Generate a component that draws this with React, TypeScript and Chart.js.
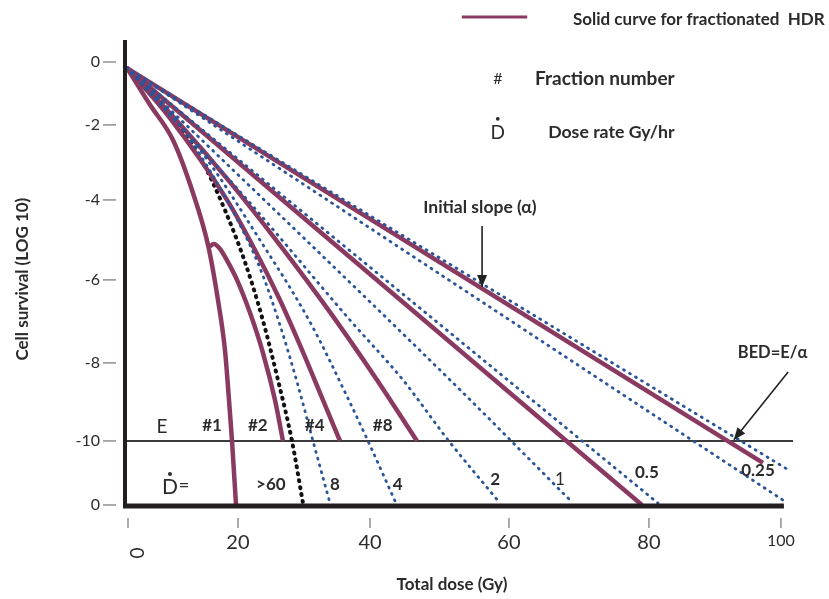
import React, { useEffect, useRef } from 'react';
import { Chart, registerables } from 'chart.js';

Chart.register(...registerables);

// ---- axis ticks (hand-spaced axis of the original diagram) ----
const xTickValues = [0, 16.97, 37.16, 58.41, 79.82, 100];
const xTickLabels = ['0', '20', '40', '60', '80', '100'];
const yTickValues = [0, -1.66, -3.64, -5.75, -7.94, -10, -11.69];
const yTickLabels = ['0', '-2', '-4', '-6', '-8', '-10', '0'];
const xTitle = 'Total dose (Gy)';
const yTitle = 'Cell survival (LOG 10)';

// ---- solid curves: fractionated HDR ----
const fracTopX = [0, 97.25];
const fracTopY = [-0.16, -10.58];
const fracMidX = [0, 78.75];
const fracMidY = [-0.16, -11.69];
const frac8X = [0, 8.1, 15.75, 23.39, 31.04, 38.23, 44.34];
const frac8Y = [-0.16, -1.64, -3.17, -4.83, -6.6, -8.39, -10.0];
const frac4X = [0, 6.57, 15.29, 19.57, 23.39, 26.45, 29.97, 32.57];
const frac4Y = [-0.16, -1.48, -3.64, -4.96, -6.28, -7.47, -8.92, -10.0];
const frac2X = [12.54, 13.3, 14.22, 15.44, 16.82, 18.81, 20.8, 22.63, 23.85];
const frac2Y = [-4.88, -4.8, -4.93, -5.28, -5.75, -6.62, -7.68, -8.92, -10.0];
const frac1X = [0, 3.52, 7.03, 9.94, 12.39, 13.91, 14.98, 15.6, 16.06, 16.67];
const frac1Y = [-0.16, -1.13, -2.06, -3.38, -4.83, -6.28, -7.6, -8.92, -10.0, -11.69];

// ---- dotted curves: dose rate (Gy/hr) ----
const rateAlphaX = [0, 100.92];
const rateAlphaY = [-0.16, -10.74];
const rate025X = [0, 100.31];
const rate025Y = [-0.16, -11.56];
const rate05X = [0, 81.19];
const rate05Y = [-0.16, -11.64];
const rate1X = [0, 49.4, 67.74];
const rate1Y = [-0.16, -8.39, -11.56];
const rate2X = [0, 18.81, 34.1, 42.2, 49.08, 57.03];
const rate2Y = [-0.16, -3.72, -6.81, -8.39, -9.97, -11.64];
const rate4X = [0, 11.16, 20.34, 27.98, 33.33, 36.85, 41.13];
const rate4Y = [-0.16, -2.32, -4.7, -6.86, -8.71, -10.0, -11.64];
const rate8X = [0, 5.81, 11.93, 16.51, 20.34, 23.39, 25.99, 28.44, 31.04];
const rate8Y = [-0.16, -1.13, -2.66, -4.04, -5.44, -6.94, -8.44, -10.0, -11.64];
const rateAcuteX = [0, 5.05, 11.16, 14.98, 18.04, 20.64, 23.09, 25.23, 26.91];
const rateAcuteY = [-0.16, -1.0, -2.51, -3.91, -5.28, -6.73, -8.39, -10.0, -11.64];

const MAROON = '#8a3a60';
const BLUE = '#2a5599';
const TEXT = '#2b2b2b';
const FONT = 'Lato, "Open Sans", sans-serif';

const pts = (xs: number[], ys: number[]) => xs.map((x, i) => ({ x, y: ys[i] }));

const solid = (label: string, xs: number[], ys: number[]) => ({
  label,
  data: pts(xs, ys),
  borderColor: MAROON,
  borderWidth: 4.5,
  pointRadius: 0,
  fill: false,
  cubicInterpolationMode: 'monotone' as const,
  borderCapStyle: 'butt' as const,
});

const dotted = (label: string, xs: number[], ys: number[], color = BLUE, w = 2.8) => ({
  label,
  data: pts(xs, ys),
  borderColor: color,
  borderWidth: w,
  borderDash: [1, 6],
  borderCapStyle: 'round' as const,
  pointRadius: 0,
  fill: false,
  cubicInterpolationMode: 'monotone' as const,
});

function drawArrow(ctx: CanvasRenderingContext2D, x1: number, y1: number, x2: number, y2: number) {
  ctx.beginPath();
  ctx.moveTo(x1, y1);
  ctx.lineTo(x2, y2);
  ctx.stroke();
  const a = Math.atan2(y2 - y1, x2 - x1);
  const L = 12;
  const W = 5;
  ctx.beginPath();
  ctx.moveTo(x2, y2);
  ctx.lineTo(x2 - L * Math.cos(a) + W * Math.sin(a), y2 - L * Math.sin(a) - W * Math.cos(a));
  ctx.lineTo(x2 - L * Math.cos(a) - W * Math.sin(a), y2 - L * Math.sin(a) + W * Math.cos(a));
  ctx.closePath();
  ctx.fill();
}

const annotations = {
  id: 'annotations',
  beforeDatasetsDraw(chart: any) {
    const { ctx, chartArea, scales } = chart;
    const y = scales.y;
    const ey = y.getPixelForValue(-10);
    ctx.save();
    ctx.strokeStyle = '#3a3a3a';
    ctx.lineWidth = 2;
    ctx.beginPath();
    ctx.moveTo(chartArea.left - 2, ey);
    ctx.lineTo(chartArea.right - 1, ey);
    ctx.stroke();
    ctx.restore();
  },
  afterDatasetsDraw(chart: any) {
    const { ctx, chartArea, scales } = chart;
    const x = scales.x;
    const y = scales.y;
    const P = (vx: number, vy: number) => [x.getPixelForValue(vx), y.getPixelForValue(vy)];
    ctx.save();

    // axes
    ctx.strokeStyle = '#231f20';
    ctx.lineWidth = 4;
    ctx.beginPath();
    ctx.moveTo(chartArea.left - 2, chartArea.top);
    ctx.lineTo(chartArea.left - 2, chartArea.bottom + 3);
    ctx.stroke();
    ctx.lineWidth = 5;
    ctx.beginPath();
    ctx.moveTo(chartArea.left - 4, chartArea.bottom + 1);
    ctx.lineTo(x.getPixelForValue(100) + 3, chartArea.bottom + 1);
    ctx.stroke();

    // tick marks
    ctx.strokeStyle = '#8f8f8f';
    ctx.lineWidth = 1.5;
    xTickValues.forEach((v) => {
      const px = x.getPixelForValue(v) + (v === 0 ? 1 : 0);
      ctx.beginPath();
      ctx.moveTo(px, chartArea.bottom + 13);
      ctx.lineTo(px, chartArea.bottom + 23);
      ctx.stroke();
    });
    yTickValues.forEach((v) => {
      const py = y.getPixelForValue(v);
      ctx.beginPath();
      ctx.moveTo(chartArea.left - 24, py);
      ctx.lineTo(chartArea.left - 11, py);
      ctx.stroke();
    });

    ctx.fillStyle = TEXT;
    ctx.textBaseline = 'middle';

    // rotated zero on the x axis
    ctx.font = `19px ${FONT}`;
    ctx.textAlign = 'center';
    ctx.save();
    ctx.translate(x.getPixelForValue(0) + 11, chartArea.bottom + 48);
    ctx.rotate(-Math.PI / 2);
    ctx.fillText(xTickLabels[0], 0, 0);
    ctx.restore();

    // axis titles
    ctx.font = `bold 17px ${FONT}`;
    ctx.fillText(xTitle, x.getPixelForValue(49.7), chartArea.bottom + 80);
    ctx.save();
    ctx.translate(chartArea.left - 104, y.getPixelForValue(-5.73));
    ctx.rotate(-Math.PI / 2);
    ctx.fillText(yTitle, 0, 0);
    ctx.restore();

    const text = (s: string, vx: number, vy: number, font: string, align = 'center') => {
      const [px, py] = P(vx, vy);
      ctx.font = font;
      ctx.textAlign = align;
      ctx.fillText(s, px, py);
    };
    const dot = (vx: number, vy: number, r = 1.9) => {
      const [px, py] = P(vx, vy);
      ctx.beginPath();
      ctx.arc(px, py, r, 0, Math.PI * 2);
      ctx.fill();
    };

    // legend block
    ctx.strokeStyle = MAROON;
    ctx.lineWidth = 3;
    const [l1x, l1y] = P(51.2, 1.19);
    const [l2x] = P(61.2, 1.19);
    ctx.beginPath();
    ctx.moveTo(l1x, l1y);
    ctx.lineTo(l2x, l1y);
    ctx.stroke();
    text('Solid curve for fractionated  HDR', 68.2, 1.11, `bold 17px ${FONT}`, 'left');
    text('#', 56.7, -0.45, `16px ${FONT}`);
    text('Fraction number', 62.4, -0.45, `bold 19px ${FONT}`, 'left');
    text('D', 56.7, -1.87, `19px ${FONT}`);
    dot(56.7, -1.5);
    text('Dose rate Gy/hr', 64.4, -1.85, `bold 17.7px ${FONT}`, 'left');

    // callouts
    text('Initial slope (\u03b1)', 45.3, -3.83, `bold 17.5px ${FONT}`, 'left');
    text('BED=E/\u03b1', 93.4, -7.68, `bold 16.5px ${FONT}`, 'left');
    ctx.strokeStyle = '#222';
    ctx.fillStyle = '#222';
    ctx.lineWidth = 1.6;
    {
      const [a1x, a1y] = P(54.3, -4.33);
      const [a2x, a2y] = P(54.3, -5.94);
      drawArrow(ctx, a1x, a1y, a2x, a2y);
      const [b1x, b1y] = P(101.1, -8.18);
      const [b2x, b2y] = P(92.8, -9.97);
      drawArrow(ctx, b1x, b1y, b2x, b2y);
    }
    ctx.fillStyle = TEXT;

    // fraction labels
    text('E', 5.35, -9.63, `19px ${FONT}`);
    text('#1', 13.0, -9.6, `bold 17px ${FONT}`);
    text('#2', 20.0, -9.6, `bold 17px ${FONT}`);
    text('#4', 28.7, -9.6, `bold 17px ${FONT}`);
    text('#8', 39.1, -9.6, `bold 17px ${FONT}`);

    // dose-rate labels
    text('D', 6.57, -11.21, `21px ${FONT}`);
    dot(6.57, -10.87, 2);
    text('=', 8.72, -11.16, `18px ${FONT}`);
    text('>60', 22.0, -11.16, `bold 17px ${FONT}`);
    text('8', 31.8, -11.16, `bold 17px ${FONT}`);
    text('4', 41.4, -11.16, `bold 17px ${FONT}`);
    text('2', 56.3, -11.03, `bold 17px ${FONT}`);
    text('1', 66.2, -11.03, `17px ${FONT}`);
    text('0.5', 79.5, -10.84, `bold 17px ${FONT}`);
    text('0.25', 96.5, -10.79, `bold 17px ${FONT}`);

    ctx.restore();
  },
};

export default function App() {
  const ref = useRef<HTMLCanvasElement>(null);

  useEffect(() => {
    if (!ref.current) return;
    const chart = new Chart(ref.current, {
      type: 'line',
      data: {
        datasets: [
          dotted('Initial slope (\u03b1)', rateAlphaX, rateAlphaY),
          dotted('0.25 Gy/hr', rate025X, rate025Y),
          dotted('0.5 Gy/hr', rate05X, rate05Y),
          dotted('1 Gy/hr', rate1X, rate1Y),
          dotted('2 Gy/hr', rate2X, rate2Y),
          dotted('4 Gy/hr', rate4X, rate4Y),
          dotted('8 Gy/hr', rate8X, rate8Y),
          solid('fractionated (many)', fracTopX, fracTopY),
          solid('fractionated', fracMidX, fracMidY),
          solid('#8', frac8X, frac8Y),
          solid('#4', frac4X, frac4Y),
          solid('#2', frac2X, frac2Y),
          solid('#1', frac1X, frac1Y),
          dotted('>60 Gy/hr', rateAcuteX, rateAcuteY, '#111111', 4),
        ] as any,
      },
      options: {
        responsive: false,
        animation: false,
        events: [],
        layout: { padding: { top: 40, right: 35, left: 0, bottom: 0 } },
        plugins: { legend: { display: false }, tooltip: { enabled: false }, title: { display: false } },
        scales: {
          x: {
            type: 'linear',
            min: 0,
            max: 102,
            grid: { display: false, drawTicks: false },
            border: { display: false },
            afterBuildTicks: (scale: any) => {
              scale.ticks = xTickValues.map((v) => ({ value: v }));
            },
            afterFit: (scale: any) => {
              scale.height = 94;
            },
            ticks: {
              autoSkip: false,
              maxRotation: 0,
              padding: 26,
              color: TEXT,
              font: (c: any) => ({ family: FONT, size: c.index === 5 ? 16 : 20 }),
              callback: (_v: any, i: number) => (i === 0 ? '' : xTickLabels[i]),
            },
            title: { display: false },
          },
          y: {
            type: 'linear',
            min: -11.69,
            max: 0.58,
            grid: { display: false, drawTicks: false },
            border: { display: false },
            afterBuildTicks: (scale: any) => {
              scale.ticks = yTickValues.map((v) => ({ value: v }));
            },
            afterFit: (scale: any) => {
              scale.width = 127;
            },
            ticks: {
              autoSkip: false,
              padding: 27,
              color: TEXT,
              font: { family: FONT, size: 16 },
              callback: (_v: any, i: number) => yTickLabels[i],
            },
            title: { display: false },
          },
        },
      },
      plugins: [annotations],
    });
    return () => chart.destroy();
  }, []);

  return (
    <div style={{ position: 'fixed', left: 0, top: 0, width: 829, height: 599, background: '#ffffff' }}>
      <canvas ref={ref} width={829} height={599} style={{ display: 'block', width: 829, height: 599 }} />
    </div>
  );
}
